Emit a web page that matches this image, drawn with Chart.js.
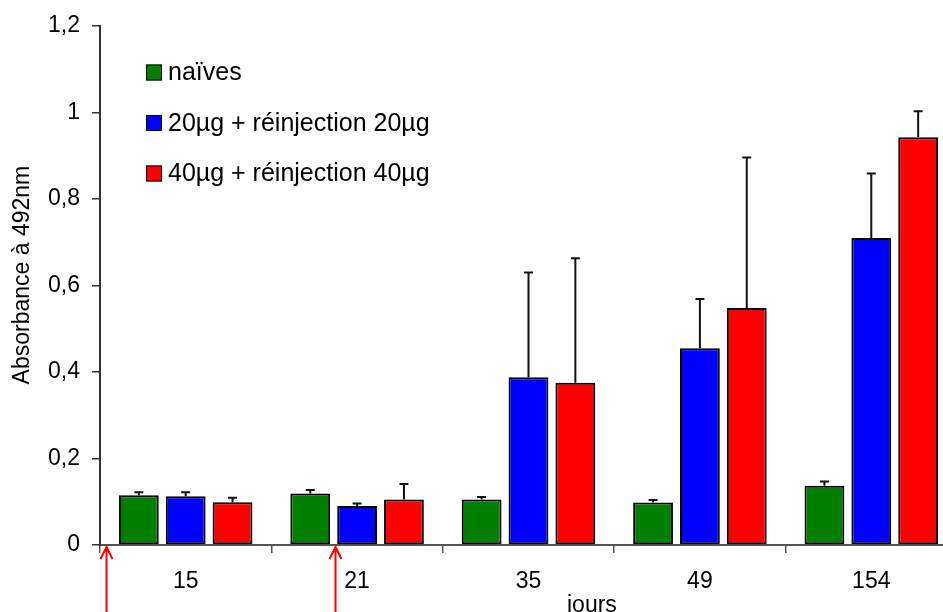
<!DOCTYPE html>
<html>
<head>
<meta charset="utf-8">
<script src="https://cdn.jsdelivr.net/npm/chart.js@4/dist/chart.umd.min.js"></script>
<style>
  html, body { margin: 0; padding: 0; background: #fff; }
  #wrap { width: 943px; height: 612px; overflow: hidden; position: relative; }
  canvas { display: block; }
</style>
</head>
<body>
<div id="wrap"><canvas id="c" width="960" height="612" style="width:960px;height:612px"></canvas></div>
<script>
// ---- data ----
const categories = ['15', '21', '35', '49', '154'];
const seriesNames = ['naïves', '20µg + réinjection 20µg', '40µg + réinjection 40µg'];
const naives = [0.115, 0.119, 0.105, 0.098, 0.137];
const naivesErr = [0.007, 0.008, 0.006, 0.006, 0.010];
const dose20 = [0.113, 0.090, 0.388, 0.455, 0.710];
const dose20Err = [0.009, 0.006, 0.242, 0.114, 0.149];
const dose40 = [0.099, 0.105, 0.375, 0.548, 0.943];
const dose40Err = [0.010, 0.036, 0.288, 0.348, 0.060];
const yTicks = [0, 0.2, 0.4, 0.6, 0.8, 1, 1.2];
const injectionMarks = [-0.465, 0.871]; // in category units (injection days)
const xTitle = 'jours';
const yTitle = 'Absorbance à 492nm';

const FONT = '"Liberation Sans", Arial, sans-serif';
const colors = ['#008000', '#0000FF', '#FF0000'];

const errorBars = {
  id: 'errorBars',
  afterDatasetsDraw(chart) {
    const ctx = chart.ctx, y = chart.scales.y;
    ctx.save();
    ctx.strokeStyle = '#111';
    ctx.lineWidth = 2;
    chart.data.datasets.forEach((ds, i) => {
      const meta = chart.getDatasetMeta(i);
      meta.data.forEach((bar, j) => {
        const v = ds.data[j], e = ds.errors[j];
        const y0 = y.getPixelForValue(v), y1 = y.getPixelForValue(v + e);
        ctx.beginPath();
        ctx.moveTo(bar.x, y0); ctx.lineTo(bar.x, y1);
        ctx.moveTo(bar.x - 4.5, y1); ctx.lineTo(bar.x + 4.5, y1);
        ctx.stroke();
      });
    });
    ctx.restore();
  }
};

const extras = {
  id: 'extras',
  afterDraw(chart) {
    const ctx = chart.ctx, a = chart.chartArea, x = chart.scales.x;
    ctx.save();
    // legend inside plot
    ctx.font = '25px ' + FONT;
    ctx.textBaseline = 'middle';
    ctx.textAlign = 'left';
    chart.data.datasets.forEach((ds, k) => {
      const cy = a.top + 46.5 + k * 50.5;
      const bx = a.left + 46;
      ctx.fillStyle = ds.backgroundColor;
      ctx.fillRect(bx, cy - 8, 16, 16);
      ctx.strokeStyle = '#000';
      ctx.lineWidth = 1;
      ctx.strokeRect(bx + 0.5, cy - 7.5, 15, 15);
      ctx.fillStyle = '#000';
      ctx.fillText(ds.label, bx + 22, cy + 1);
    });
    // axis titles
    ctx.fillStyle = '#000';
    ctx.font = '23px ' + FONT;
    ctx.textAlign = 'center';
    ctx.textBaseline = 'alphabetic';
    ctx.fillText(xTitle, a.left + (a.right - a.left) * 0.574, chart.height - 0.5);
    ctx.save();
    ctx.translate(29, a.top + (a.bottom - a.top) * 0.48);
    ctx.rotate(-Math.PI / 2);
    ctx.fillText(yTitle, 0, 0);
    ctx.restore();
    // injection arrows
    ctx.strokeStyle = '#FF0000';
    ctx.lineWidth = 2;
    injectionMarks.forEach(m => {
      const px = Math.round(x.getPixelForValue(m)) + 0.5;
      const tip = a.bottom + 2;
      ctx.beginPath();
      ctx.moveTo(px, chart.height); ctx.lineTo(px, tip);
      ctx.moveTo(px - 6, tip + 12); ctx.lineTo(px, tip); ctx.lineTo(px + 6, tip + 12);
      ctx.stroke();
    });
    ctx.restore();
  }
};

const datasets = [
  { label: seriesNames[0], data: naives, errors: naivesErr, backgroundColor: colors[0] },
  { label: seriesNames[1], data: dose20, errors: dose20Err, backgroundColor: colors[1] },
  { label: seriesNames[2], data: dose40, errors: dose40Err, backgroundColor: colors[2] }
].map(d => Object.assign(d, { borderColor: '#000', borderWidth: 2, borderSkipped: false,
  barPercentage: 0.85, categoryPercentage: 0.82 }));

new Chart(document.getElementById('c'), {
  type: 'bar',
  data: { labels: categories, datasets },
  options: {
    responsive: false,
    animation: false,
    devicePixelRatio: 1,
    layout: { padding: { top: 26, right: 3, left: 0, bottom: 0 } },
    plugins: { legend: { display: false }, tooltip: { enabled: false } },
    scales: {
      x: {
        grid: { offset: true, drawOnChartArea: false, drawTicks: true, tickLength: 8, color: '#555', lineWidth: 1.5 },
        border: { display: true, color: '#555', width: 2 },
        ticks: { color: '#000', font: { family: FONT, size: 23 }, padding: 15, maxRotation: 0 },
        afterFit(s) { s.height = 67; }
      },
      y: {
        min: 0, max: 1.2,
        afterBuildTicks(s) { s.ticks = yTicks.map(v => ({ value: v })); },
        grid: { drawOnChartArea: false, drawTicks: true, tickLength: 8, color: '#333', lineWidth: 1.5 },
        border: { display: true, color: '#333', width: 2 },
        ticks: {
          color: '#000', font: { family: FONT, size: 23 }, padding: 12,
          callback: v => String(Math.round(v * 10) / 10).replace('.', ',')
        },
        afterFit(s) { s.width = 100; }
      }
    }
  },
  plugins: [errorBars, extras]
});
</script>
</body>
</html>
